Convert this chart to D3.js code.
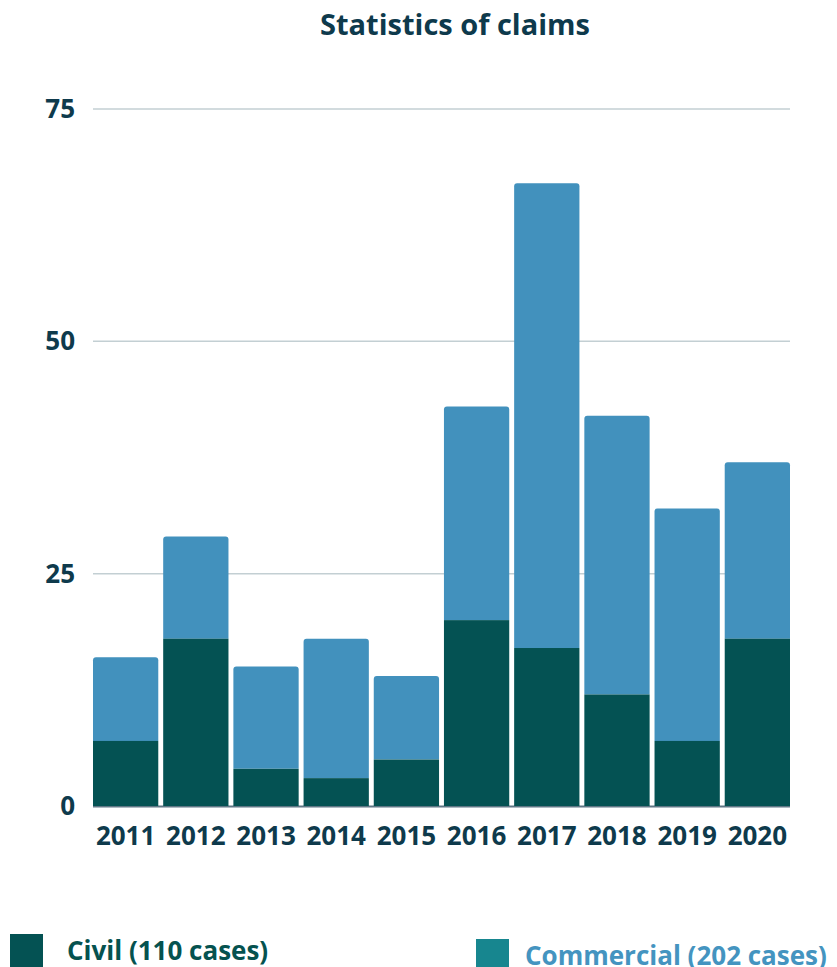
<!DOCTYPE html>
<html>
<head>
<meta charset="utf-8">
<script src="https://cdn.jsdelivr.net/npm/d3@7"></script>
<style>
  body { margin: 0; background: #fff; }
  text { font-family: "Open Sans", sans-serif; font-weight: 700; }
</style>
</head>
<body>
<svg id="chartArea" width="837" height="967"></svg>
<script>
const years = ["2011","2012","2013","2014","2015","2016","2017","2018","2019","2020"];
const civil = [7, 18, 4, 3, 5, 20, 17, 12, 7, 18];
const commercial = [9, 11, 11, 15, 9, 23, 50, 30, 25, 19];
const yTicks = [0, 25, 50, 75];

const svg = d3.select("#chartArea");
const margin = {top: 109, right: 47, bottom: 161, left: 93};
const width = 837, height = 967;
const cWidth = width - margin.left - margin.right;
const cHeight = height - margin.top - margin.bottom;

svg.append("text")
    .attr("x", 455)
    .attr("y", 35)
    .attr("text-anchor", "middle")
    .style("font-size", "29px")
    .attr("fill", "#0e3a4c")
    .text("Statistics of claims");

const g = svg.append("g").attr("transform", `translate(${margin.left},${margin.top})`);

const x = d3.scaleBand().domain(years).range([0, cWidth]).paddingInner(0.07).paddingOuter(0.0);
const y = d3.scaleLinear().domain([0, 75]).range([cHeight, 0]);

// gridlines
g.selectAll(".grid")
    .data(yTicks.filter(t => t > 0))
    .enter().append("line")
    .attr("x1", 0).attr("x2", cWidth)
    .attr("y1", d => y(d)).attr("y2", d => y(d))
    .attr("stroke", "#c3cfd3").attr("stroke-width", 1.5);

// y tick labels
g.selectAll(".ylab")
    .data(yTicks)
    .enter().append("text")
    .attr("x", -18)
    .attr("y", d => y(d) + 9)
    .attr("text-anchor", "end")
    .style("font-size", "26px")
    .attr("fill", "#0e3a4c")
    .text(d => d);

const data = years.map((yr, i) => ({year: yr, civil: civil[i], commercial: commercial[i]}));

// baseline
g.append("line")
    .attr("x1", 0).attr("x2", cWidth)
    .attr("y1", y(0) + 0.5).attr("y2", y(0) + 0.5)
    .attr("stroke", "#5f7785").attr("stroke-width", 2);

// commercial (top segment, rounded top corners)
const r = 3;
g.selectAll(".comm")
    .data(data)
    .enter().append("path")
    .attr("fill", "#4291bd")
    .attr("d", d => {
        const x0 = x(d.year), w = x.bandwidth();
        const yt = y(d.civil + d.commercial), yb = y(d.civil);
        return `M${x0},${yb} L${x0},${yt + r} Q${x0},${yt} ${x0 + r},${yt} L${x0 + w - r},${yt} Q${x0 + w},${yt} ${x0 + w},${yt + r} L${x0 + w},${yb} Z`;
    });

g.selectAll(".civ")
    .data(data)
    .enter().append("rect")
    .attr("x", d => x(d.year))
    .attr("y", d => y(d.civil))
    .attr("width", x.bandwidth())
    .attr("height", d => y(0) - y(d.civil))
    .attr("fill", "#045253");

// x labels
g.selectAll(".xlab")
    .data(years)
    .enter().append("text")
    .attr("x", d => x(d) + x.bandwidth() / 2)
    .attr("y", cHeight + 39)
    .attr("text-anchor", "middle")
    .style("font-size", "26px")
    .attr("fill", "#0e3a4c")
    .text(d => d);

// legend
const legend = [
    {label: "Civil (110 cases)", box: "#045253", text: "#05524f", x: 10, y: 934, tx: 67},
    {label: "Commercial (202 cases)", box: "#17868f", text: "#4494c0", x: 476, y: 939, tx: 525}
];
const lg = svg.selectAll(".legend").data(legend).enter().append("g");
lg.append("rect")
    .attr("x", d => d.x).attr("y", d => d.y)
    .attr("width", 33).attr("height", 33)
    .attr("fill", d => d.box);
lg.append("text")
    .attr("x", d => d.tx)
    .attr("y", d => d.y + 26)
    .style("font-size", "26px")
    .attr("fill", d => d.text)
    .text(d => d.label);
</script>
</body>
</html>
